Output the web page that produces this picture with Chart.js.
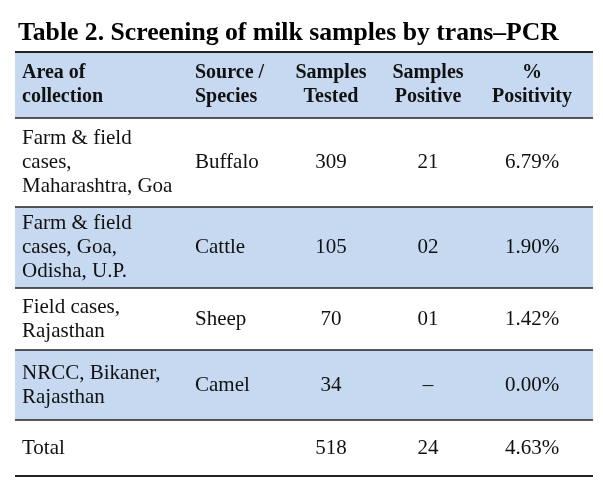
<!DOCTYPE html>
<html>
<head>
<meta charset="utf-8">
<script src="https://cdn.jsdelivr.net/npm/chart.js@4"></script>
<style>
  html, body { margin: 0; background: #fff; }
  #wrap { width: 603px; height: 486px; }
</style>
</head>
<body>
<div id="wrap"><canvas id="tbl"></canvas></div>
<script>
// Table data
const title = 'Table 2. Screening of milk samples by trans\u2013PCR';
const headers = [['Area of', 'collection'], ['Source /', 'Species'], ['Samples', 'Tested'], ['Samples', 'Positive'], ['%', 'Positivity']];
const areas = [
    ['Farm & field', 'cases,', 'Maharashtra, Goa'],
    ['Farm & field', 'cases, Goa,', 'Odisha, U.P.'],
    ['Field cases,', 'Rajasthan'],
    ['NRCC, Bikaner,', 'Rajasthan'],
    ['Total']
];
const species = ['Buffalo', 'Cattle', 'Sheep', 'Camel', ''];
const tested = ['309', '105', '70', '34', '518'];
const positive = ['21', '02', '01', '\u2013', '24'];
const positivity = ['6.79%', '1.90%', '1.42%', '0.00%', '4.63%'];

// Layout
const rowEdges = [52, 118, 207, 288, 350, 420, 476];
const colX = [22, 195, 331, 428, 532];
const colAlign = ['left', 'left', 'center', 'center', 'center'];
const tableLeft = 15, tableRight = 593;
const blue = '#c6d9f1';
const serif = '"Liberation Serif", "DejaVu Serif", serif';

const tablePlugin = {
    id: 'tablePlugin',
    afterDraw(chart) {
        const ctx = chart.ctx;
        ctx.save();
        ctx.fillStyle = '#fff';
        ctx.fillRect(0, 0, chart.width, chart.height);

        // Title
        ctx.fillStyle = '#000';
        ctx.font = 'bold 25.7px ' + serif;
        ctx.textBaseline = 'middle';
        ctx.textAlign = 'left';
        ctx.fillText(title, 18, 33);

        // Row backgrounds
        const shaded = [true, false, true, false, true, false];
        for (let r = 0; r < 6; r++) {
            if (shaded[r]) {
                ctx.fillStyle = blue;
                ctx.fillRect(tableLeft, rowEdges[r], tableRight - tableLeft, rowEdges[r + 1] - rowEdges[r]);
            }
        }

        // Row lines
        ctx.strokeStyle = '#222';
        rowEdges.forEach((y, i) => {
            ctx.lineWidth = (i === 0 || i === rowEdges.length - 1) ? 2 : 1.3;
            ctx.beginPath();
            ctx.moveTo(tableLeft, y);
            ctx.lineTo(tableRight, y);
            ctx.stroke();
        });

        const lh = 24;
        function cell(lines, col, top, bottom, font) {
            ctx.font = font;
            ctx.fillStyle = '#111';
            ctx.textAlign = colAlign[col];
            const mid = (top + bottom) / 2;
            const start = mid - (lines.length - 1) * lh / 2;
            lines.forEach((t, i) => ctx.fillText(t, colX[col], start + i * lh));
        }

        // Header
        headers.forEach((h, c) => cell(h, c, rowEdges[0], rowEdges[1], 'bold 20px ' + serif));

        // Body rows
        const bodyFont = '21px ' + serif;
        for (let r = 0; r < areas.length; r++) {
            const top = rowEdges[r + 1], bottom = rowEdges[r + 2];
            cell(areas[r], 0, top, bottom, bodyFont);
            cell([species[r]], 1, top, bottom, bodyFont);
            cell([tested[r]], 2, top, bottom, bodyFont);
            cell([positive[r]], 3, top, bottom, bodyFont);
            cell([positivity[r]], 4, top, bottom, bodyFont);
        }
        ctx.restore();
    }
};

new Chart(document.getElementById('tbl'), {
    type: 'bar',
    data: { labels: species, datasets: [{ data: tested.map(Number), backgroundColor: 'rgba(0,0,0,0)' }] },
    options: {
        responsive: true,
        maintainAspectRatio: false,
        animation: false,
        events: [],
        plugins: { legend: { display: false }, tooltip: { enabled: false } },
        scales: { x: { display: false }, y: { display: false } }
    },
    plugins: [tablePlugin]
});
</script>
</body>
</html>
